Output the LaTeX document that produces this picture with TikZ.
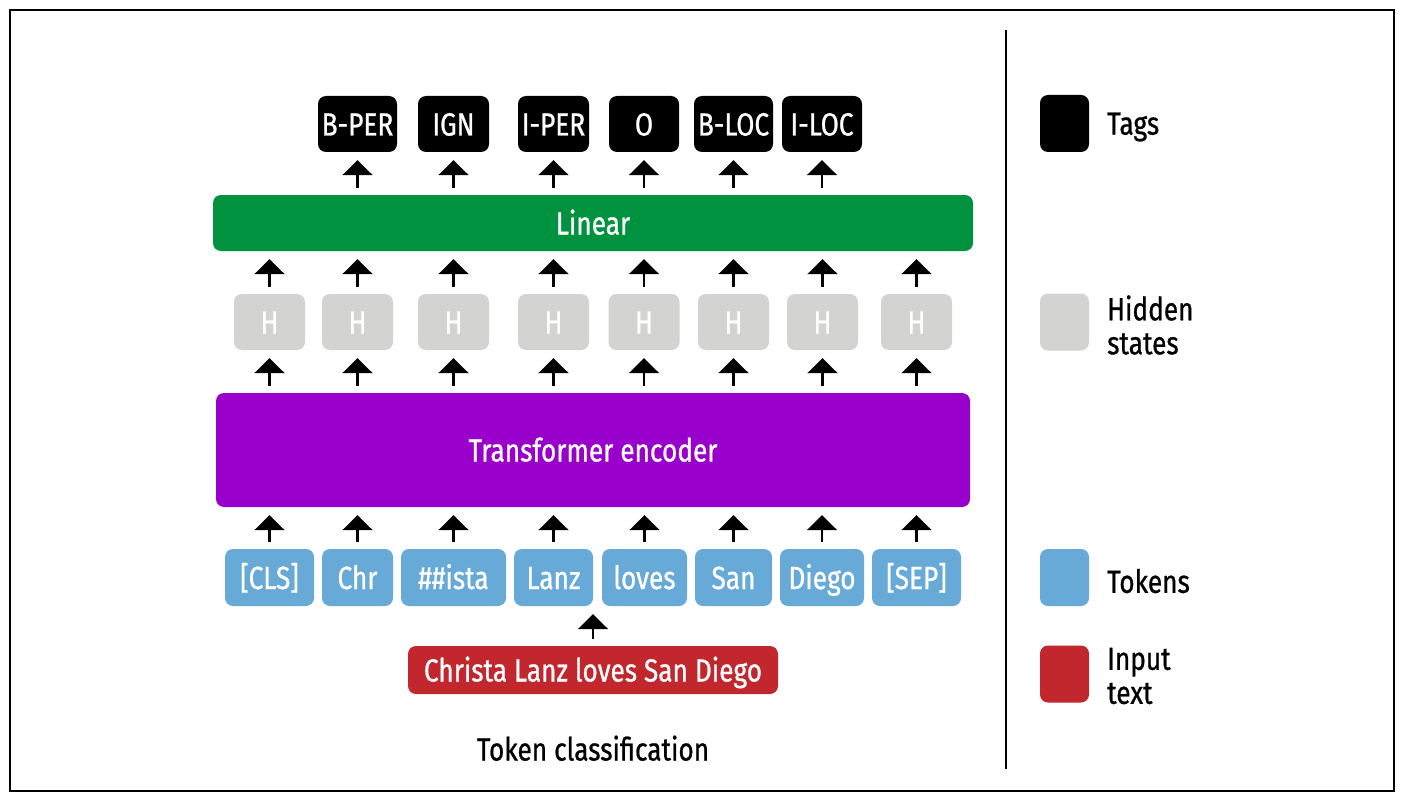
\documentclass[tikz,border=0pt]{standalone}
\usepackage{fontspec}
\setmainfont{Fira Sans}[FakeStretch=0.82,FakeBold=0.8]
\usetikzlibrary{arrows.meta}
\definecolor{lingreen}{HTML}{00923F}
\definecolor{encpurple}{HTML}{9900CC}
\definecolor{tokblue}{HTML}{67AAD8}
\definecolor{inred}{HTML}{C1272D}
\definecolor{hidgray}{HTML}{D3D3D1}
\begin{document}
\begin{tikzpicture}[x=1pt,y=-1pt,
    box/.style={rounded corners=8pt,inner sep=0pt,text=white,text height=23pt,text depth=0pt,font=\fontsize{32}{34}\selectfont},
    tag/.style={box,fill=black,minimum height=56pt},
    hid/.style={box,fill=hidgray,minimum width=71pt,minimum height=56pt},
    tok/.style={box,fill=tokblue,minimum height=57pt},
    key/.style={rounded corners=8pt,minimum width=49pt,minimum height=57pt,inner sep=0pt},
    keytext/.style={anchor=west,align=left,inner sep=0pt,font=\fontsize{32}{34}\selectfont},
    up/.style={-{Triangle[width=30pt,length=15pt]},line width=2.2pt,shorten <=7pt,shorten >=8pt}]
\useasboundingbox (0,0) rectangle (1404,805);
\draw[line width=1.3pt] (10,10) rectangle (1394,791);
\draw[line width=2.5pt] (1006,30) -- (1006,769);
% main stack
\node[box,fill=lingreen,minimum width=760pt,minimum height=56pt] (lin) at (593,223) {Linear};
\node[box,fill=encpurple,minimum width=754pt,minimum height=114pt] (enc) at (593,450) {Transformer encoder};
\node[box,fill=inred,minimum width=370pt,minimum height=48pt] (in) at (593,670) {Christa Lanz loves San Diego};
\node[box,text=black] (cap) at (593,749) {Token classification};
\foreach \x/\w/\t [count=\i] in {357.5/79/B-PER,453.5/71/IGN,553.5/71/I-PER,644/70/O,733.5/79/B-LOC,822/80/I-LOC}
  \node[tag,minimum width=\w*1pt] (tag\i) at (\x,124) {\t};
\foreach \x [count=\i] in {269.5,357.5,453.5,553.5,644,733.5,822.5,916.5}
  \node[hid] (h\i) at (\x,322) {H};
\foreach \x/\w/\t [count=\i] in {269.5/89/{[CLS]},357.5/71/Chr,453.5/105/\#\#ista,553.5/79/Lanz,644.5/85/loves,733.5/77/San,822/84/Diego,916.5/89/{[SEP]}}
  \node[tok,minimum width=\w*1pt] (tok\i) at (\x,577.5) {\t};
% arrows
\foreach \i in {1,...,8} {
  \draw[up] (tok\i.north) -- (tok\i.north |- enc.south);
  \draw[up] (h\i.south |- enc.north) -- (h\i.south);
  \draw[up] (h\i.north) -- (h\i.north |- lin.south);
}
\foreach \i in {1,...,6}
  \draw[up] (tag\i.south |- lin.north) -- (tag\i.south);
\draw[up] (in.north) -- (in.north |- tok4.south);
% legend
\node[key,fill=black] (k1) at (1064.5,123.5) {};
\node[key,fill=hidgray] (k2) at (1064.5,322) {};
\node[key,fill=tokblue] (k3) at (1064.5,577.5) {};
\node[key,fill=inred] (k4) at (1064.5,674) {};
\node[keytext] at (1107,127) {Tags};
\node[keytext] at (1107,325) {Hidden\\states};
\node[keytext] at (1107,581) {Tokens};
\node[keytext] at (1107,676) {Input\\text};
\end{tikzpicture}
\end{document}
